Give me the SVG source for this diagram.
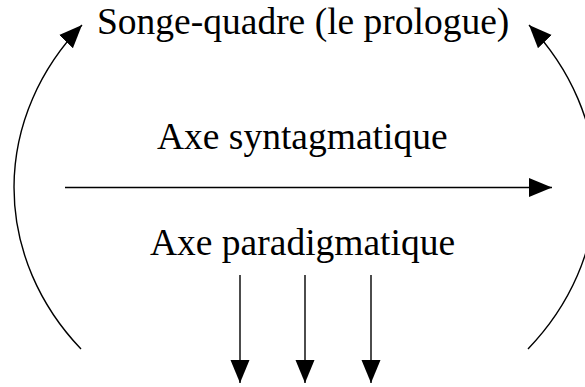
<svg xmlns="http://www.w3.org/2000/svg" width="585" height="387" viewBox="0 0 585 387">
<style>
.t{font-family:"Liberation Serif","Times New Roman",serif;font-size:37.5px;fill:#000}
.c{fill:none;stroke:#000;stroke-width:1.4}
</style>
<defs>
<marker id="ah" markerUnits="userSpaceOnUse" markerWidth="25" markerHeight="22" refX="23" refY="10" orient="auto" viewBox="0 0 25 22">
<path d="M0,0.5 L23,10 L0,19.5 z" fill="#000"/>
</marker>
</defs>
<g id="songe"><text class="t" x="97" y="34">Songe-quadre (le prologue)</text></g>
<g id="syntag"><text class="t" x="157" y="149">Axe syntagmatique</text></g>
<g id="paradig"><text class="t" x="150" y="255">Axe paradigmatique</text></g>
<g id="connectors">
<path class="c" d="M81,349 A291,253 0 0 1 82,25" marker-end="url(#ah)"/>
<path class="c" d="M528,349 A291,253 0 0 0 529,25" marker-end="url(#ah)"/>
<path class="c" d="M65,187.5 L552,187.5" marker-end="url(#ah)"/>
<path class="c" d="M240,275 L240,383" marker-end="url(#ah)"/>
<path class="c" d="M305,275 L305,383" marker-end="url(#ah)"/>
<path class="c" d="M371,275 L371,383" marker-end="url(#ah)"/>
</g>
</svg>
